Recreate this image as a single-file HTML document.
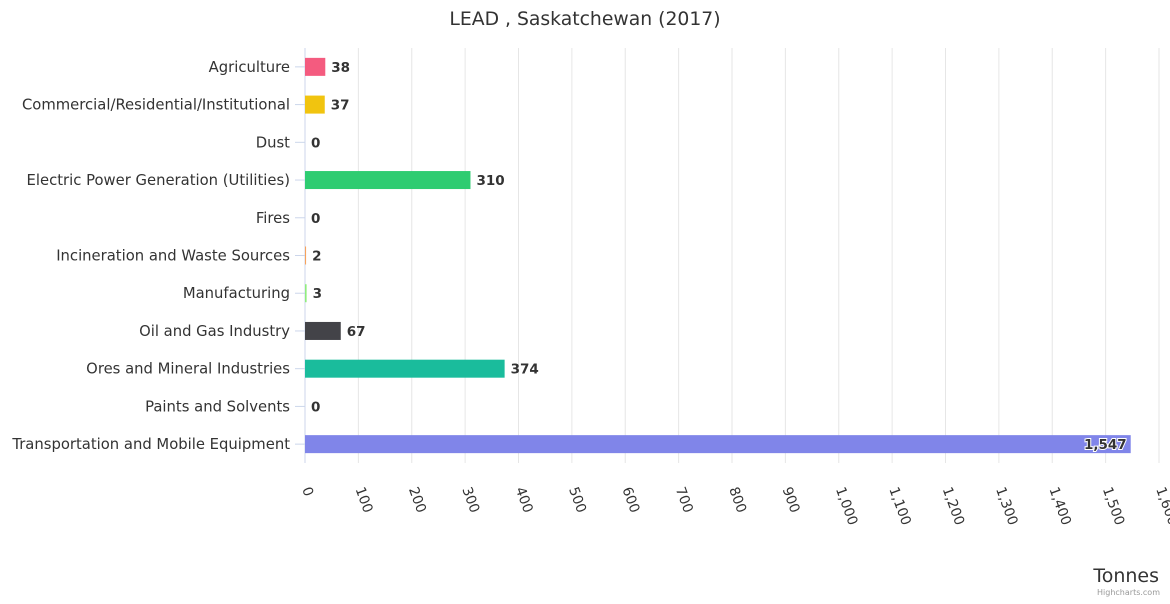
<!DOCTYPE html>
<html><head><meta charset="utf-8"><style>
body{margin:0;background:#fff;font-family:"DejaVu Sans",sans-serif;}
svg text{font-family:"DejaVu Sans",sans-serif;}
</style></head><body>
<svg id="chart" width="1170" height="600" xmlns="http://www.w3.org/2000/svg">
<text x="585" y="25" text-anchor="middle" font-size="18.8" fill="#333">LEAD , Saskatchewan (2017)</text>
<g id="grid"></g><g id="bars"></g><g id="ylabels"></g><g id="xlabels"></g>
<text x="1159" y="582" text-anchor="end" font-size="19" fill="#333">Tonnes</text>
<text x="1160" y="595" text-anchor="end" font-size="8" fill="#999">Highcharts.com</text>
</svg>
<script>
const categories=["Agriculture","Commercial/Residential/Institutional","Dust","Electric Power Generation (Utilities)","Fires","Incineration and Waste Sources","Manufacturing","Oil and Gas Industry","Ores and Mineral Industries","Paints and Solvents","Transportation and Mobile Equipment"];
const values=[38,37,0,310,0,2,3,67,374,0,1547];
const colors=["#f45b7f","#f1c40f","#2b908f","#2ecc71","#e4d354","#f7a35c","#90ed7d","#434348","#1abc9c","#8d4653","#8085e9"];
const ticks=[0,100,200,300,400,500,600,700,800,900,1000,1100,1200,1300,1400,1500,1600];
const X0=305,X1=1159,T=48,B=463,MAX=1600;
const xs=v=>X0+(v/MAX)*(X1-X0);
const step=(B-T)/categories.length;
const yc=i=>T+step*(i+0.5);
const ns="http://www.w3.org/2000/svg";
function mk(tag,attrs,parent,txt){const e=document.createElementNS(ns,tag);for(const k in attrs)e.setAttribute(k,attrs[k]);if(txt!==undefined)e.textContent=txt;document.getElementById(parent).appendChild(e);return e;}
const fmt=v=>v.toLocaleString("en-US");
ticks.forEach(t=>{
 const g=mk("line",{x1:xs(t),x2:xs(t),y1:T,y2:B,stroke:t===0?"#ccd6eb":"#e6e6e6","stroke-width":1},"grid");
 
 
 const x=xs(t)-3,y=489;
 const l=mk("text",{x:x,y:y,"font-size":13.8,fill:"#333",transform:`rotate(70 ${x} ${y})`,"text-anchor":"start"},"xlabels",fmt(t));
 
 
});
categories.forEach((c,i)=>{
 const y=yc(i);
 const tk=mk("line",{x1:X0-10,x2:X0,y1:y,y2:y,stroke:"#ccd6eb"},"grid");
 
 
 const lab=mk("text",{x:290,y:y+5,"text-anchor":"end","font-size":14.8,fill:"#333"},"ylabels",c);
 
 
 const v=values[i];
 const w=xs(v)-X0;
 if(w>0){
  const r=mk("rect",{x:X0,y:y-9,width:w,height:18,fill:colors[i]},"bars");
  
  
 }
 const inside=xs(v)+40>1165;
 const vl=mk("text",{x:inside?xs(v)-4:xs(v)+6,y:y+5,"text-anchor":inside?"end":"start","font-size":13.5,"font-weight":"bold",fill:"#333",stroke:inside?"#fff":"none","stroke-width":inside?2:0,"paint-order":"stroke"},"bars",fmt(v));
 
 
});
</script>
</body></html>
